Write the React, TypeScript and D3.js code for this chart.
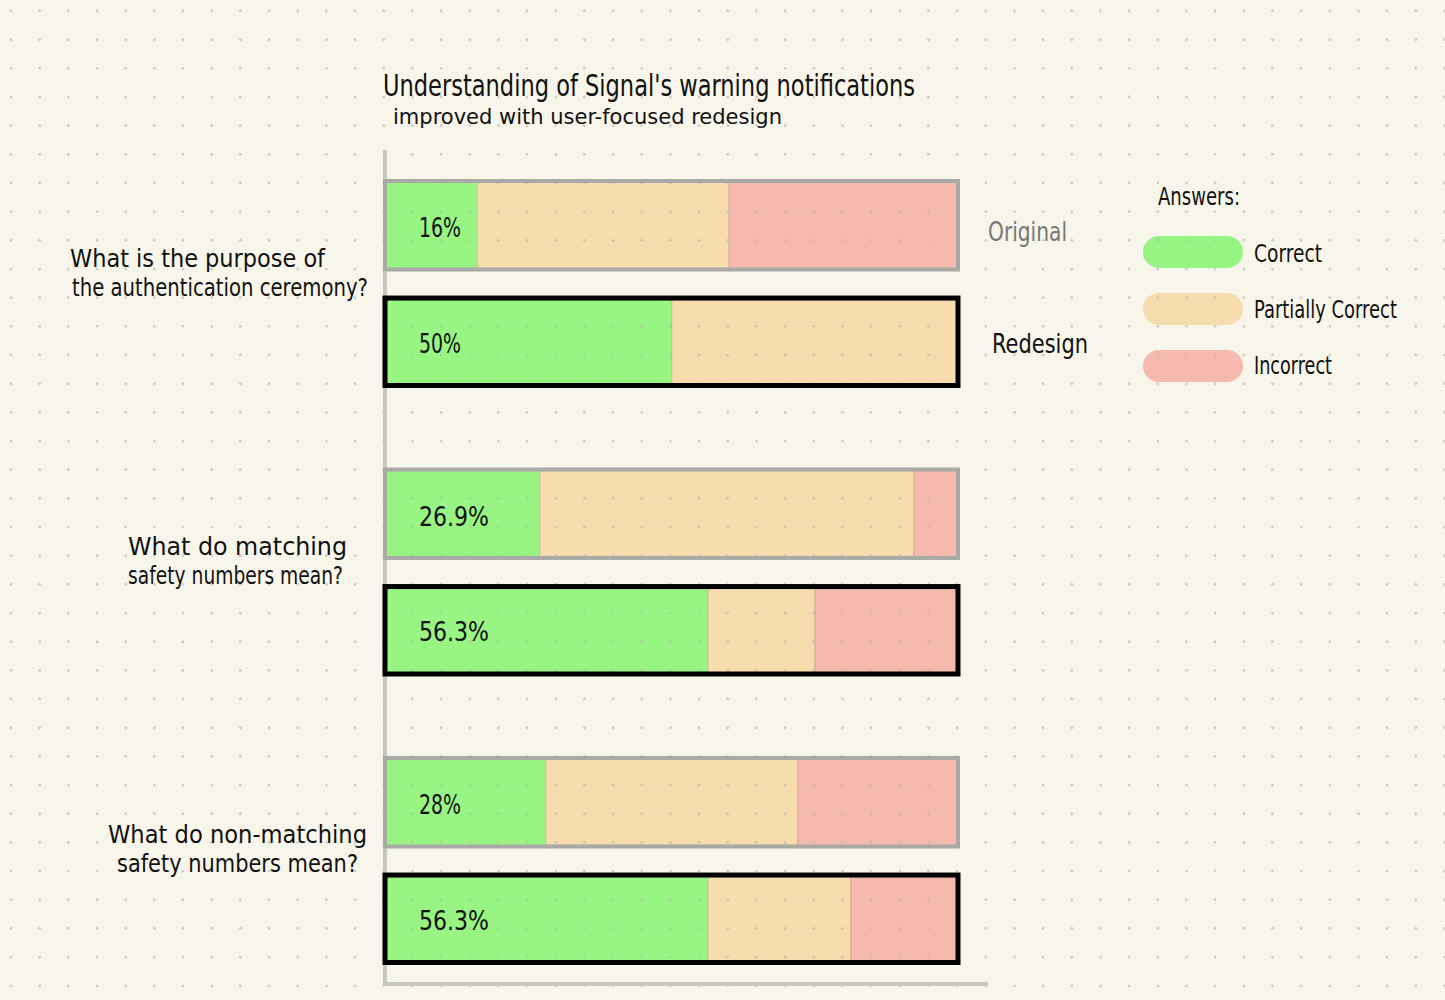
import { useMemo } from "react";
import * as d3 from "d3";

const WIDTH = 1445;
const HEIGHT = 1000;
const FONT = "'DejaVu Sans Condensed', 'Liberation Sans Narrow', 'DejaVu Sans', sans-serif";

// chart data
const titleLines = [
    "Understanding of Signal's warning notifications",
    "improved with user-focused redesign",
];
const questions = ["purpose", "matching", "nonMatching"];
const questionLines = [
    ["What is the purpose of", "the authentication ceremony?"],
    ["What do matching", "safety numbers mean?"],
    ["What do non-matching", "safety numbers mean?"],
];
const versions = ["Original", "Redesign"];
const answerKeys = ["correct", "partial", "incorrect"];
const answerLabels = ["Correct", "Partially Correct", "Incorrect"];

const originalCorrect = [16, 26.9, 28];
const originalPartial = [44, 65.4, 44];
const originalIncorrect = [40, 7.7, 28];
const redesignCorrect = [50, 56.3, 56.3];
const redesignPartial = [50, 18.7, 25];
const redesignIncorrect = [0, 25, 18.7];

const colors = ["#98f583", "#f7dcad", "#f5b9ae"];

// hand placed text layout (x start, width) per question line
const questionLayout = [
    [[70, 255], [72, 296]],
    [[128, 219], [128, 215]],
    [[108, 259], [117, 241]],
];

type Row = {
    question: string;
    version: string;
    correct: number;
    partial: number;
    incorrect: number;
};

const DotGrid = () => {
    const cols = d3.range(0, 51);
    const rows = d3.range(0, 35);
    return (
        <g fill="#b9b8b0" fillOpacity={0.65}>
            {rows.map((r) =>
                cols.map((c) => (
                    <circle key={`${r}-${c}`} cx={11 + c * 28.67} cy={11 + r * 28.67} r={1.4} />
                ))
            )}
        </g>
    );
};

export default function App() {
    const rows: Row[] = useMemo(
        () =>
            questions.flatMap((q, i) => [
                { question: q, version: "Original", correct: originalCorrect[i], partial: originalPartial[i], incorrect: originalIncorrect[i] },
                { question: q, version: "Redesign", correct: redesignCorrect[i], partial: redesignPartial[i], incorrect: redesignIncorrect[i] },
            ]),
        []
    );

    const series = useMemo(() => d3.stack<Row>().keys(answerKeys)(rows), [rows]);

    const x = d3.scaleLinear().domain([0, 100]).range([386, 958]);
    const y = d3.scaleBand<string>().domain(questions).range([180, 965]).paddingInner(0.279).paddingOuter(0);
    const yInner = d3.scaleBand<string>().domain(versions).range([0, y.bandwidth()]).paddingInner(0.2);
    const color = d3.scaleOrdinal<string, string>().domain(answerKeys).range(colors);

    const barY = (r: Row) => (y(r.question) ?? 0) + (yInner(r.version) ?? 0);
    const bh = yInner.bandwidth();

    return (
        <svg
            width={WIDTH}
            height={HEIGHT}
            style={{ position: "absolute", left: 0, top: 0, display: "block" }}
            fontFamily={FONT}
        >
            <rect width={WIDTH} height={HEIGHT} fill="#f8f5ea" />

            {/* bar fills */}
            {series.map((s) => (
                <g key={s.key} fill={color(s.key)}>
                    {s.map((d, i) =>
                        d[1] - d[0] > 0 ? (
                            <rect
                                key={i}
                                x={x(d[0])}
                                y={barY(d.data) + 1}
                                width={x(d[1]) - x(d[0])}
                                height={bh - 3}
                                stroke={d3.color(color(s.key))!.darker(0.5).formatHex()}
                                strokeOpacity={0.45}
                                strokeWidth={1.5}
                            />
                        ) : null
                    )}
                </g>
            ))}

            {/* legend pills */}
            {answerKeys.map((k, i) => (
                <rect key={k} x={1143} y={236 + i * 57} width={100} height={32} rx={16} fill={color(k)} />
            ))}

            <DotGrid />

            {/* axes */}
            <line x1={385} x2={385} y1={150} y2={986} stroke="#c6c6c2" strokeWidth={4} />
            <line x1={383} x2={988} y1={984} y2={984} stroke="#c6c6c2" strokeWidth={4} />

            {/* bar outlines */}
            {rows.map((r, i) =>
                r.version === "Original" ? (
                    <rect key={i} x={x(0) - 1} y={barY(r) + 1} width={x(100) - x(0) + 1} height={bh - 4} fill="none" stroke="#a9a9a6" strokeWidth={4} />
                ) : (
                    <rect key={i} x={x(0) - 1} y={barY(r) + 2.5} width={x(100) - x(0) + 1} height={bh - 5} fill="none" stroke="#000" strokeWidth={5} />
                )
            )}

            {/* percentage labels */}
            {rows.map((r, i) => {
                const t = `${r.correct}%`;
                return (
                    <text
                        key={i}
                        x={x(0) + 33}
                        y={barY(r) + bh / 2 + 11}
                        fontSize={27}
                        textLength={t.length * 14}
                        lengthAdjust="spacingAndGlyphs"
                        fill="#111"
                    >
                        {t}
                    </text>
                );
            })}

            {/* title */}
            <text x={383} y={96} fontSize={30} textLength={532} lengthAdjust="spacingAndGlyphs" fill="#111">
                {titleLines[0]}
            </text>
            <text x={393} y={124} fontSize={22} textLength={389} lengthAdjust="spacingAndGlyphs" fill="#111">
                {titleLines[1]}
            </text>

            {/* question labels */}
            {questions.map((q, i) => {
                const mid = (y(q) ?? 0) + y.bandwidth() / 2;
                return (
                    <g key={q} fill="#111" fontSize={25}>
                        {questionLines[i].map((line, j) => (
                            <text
                                key={j}
                                x={questionLayout[i][j][0]}
                                y={mid + (j === 0 ? -17.5 : 11.5)}
                                textLength={questionLayout[i][j][1]}
                                lengthAdjust="spacingAndGlyphs"
                            >
                                {line}
                            </text>
                        ))}
                    </g>
                );
            })}

            {/* version labels on first group */}
            <text
                x={988}
                y={(y(questions[0]) ?? 0) + (yInner("Original") ?? 0) + bh / 2 + 15}
                fontSize={27}
                textLength={79}
                lengthAdjust="spacingAndGlyphs"
                fill="#777"
            >
                {versions[0]}
            </text>
            <text
                x={992}
                y={(y(questions[0]) ?? 0) + (yInner("Redesign") ?? 0) + bh / 2 + 11}
                fontSize={27}
                textLength={96}
                lengthAdjust="spacingAndGlyphs"
                fill="#111"
            >
                {versions[1]}
            </text>

            {/* legend */}
            <text x={1158} y={205} fontSize={25} textLength={82} lengthAdjust="spacingAndGlyphs" fill="#111">
                Answers:
            </text>
            {answerLabels.map((a, i) => (
                <text
                    key={a}
                    x={1254}
                    y={262 + i * 56}
                    fontSize={25}
                    textLength={[68, 143, 78][i]}
                    lengthAdjust="spacingAndGlyphs"
                    fill="#111"
                >
                    {a}
                </text>
            ))}
        </svg>
    );
}
